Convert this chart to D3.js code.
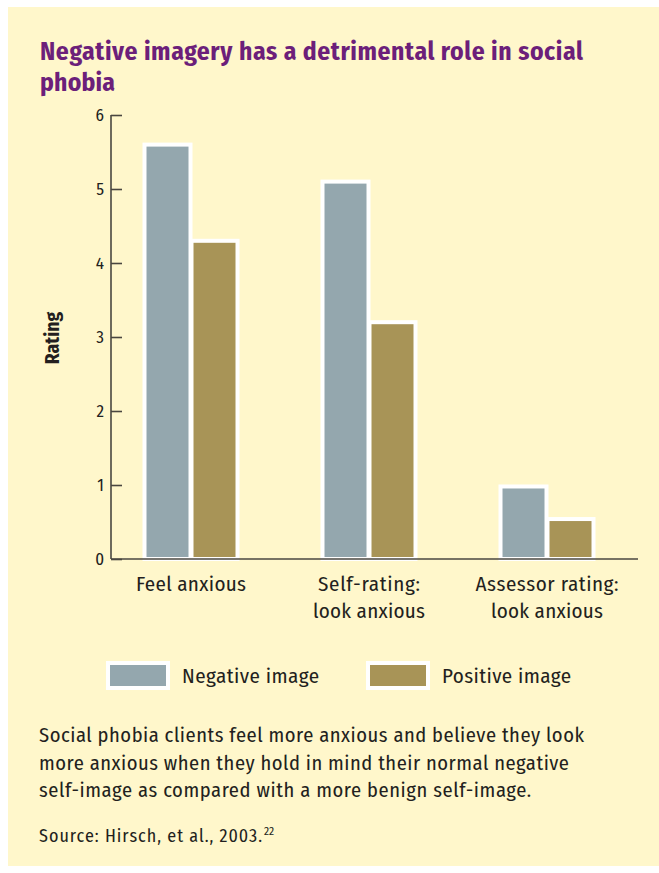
<!DOCTYPE html>
<html>
<head>
<meta charset="utf-8">
<script src="https://cdn.jsdelivr.net/npm/d3@7"></script>
<style>
  body { margin: 0; background: #fff; }
  svg text { font-family: "Fira Sans Condensed", "Liberation Sans Narrow", "DejaVu Sans Condensed", "Roboto Condensed", sans-serif; fill: #231f20; }
</style>
</head>
<body>
<div id="chart"></div>
<script>
// data
var categories = [["Feel anxious"], ["Self-rating:", "look anxious"], ["Assessor rating:", "look anxious"]];
var seriesNames = ["Negative image", "Positive image"];
var negativeValues = [5.6, 5.1, 0.98];
var positiveValues = [4.3, 3.2, 0.54];
var yTicks = [0, 1, 2, 3, 4, 5, 6];

var colors = ["#94a7ae", "#a89457"];

var W = 659, H = 873;

// stretch a text to a measured width by spacing only
function fit(sel, w) {
    sel.attr('textLength', w).attr('lengthAdjust', 'spacing');
}

var svg = d3.select('#chart')
    .append('svg')
    .attr('width', W)
    .attr('height', H);

// cream panel
svg.append('rect')
    .attr('x', 8).attr('y', 7)
    .attr('width', W - 8).attr('height', 859)
    .attr('fill', '#fff7cb');

// title
var title = svg.append('text')
    .attr('y', 60)
    .style('font-size', '25.5px')
    .style('font-weight', 'bold')
    .style('fill', '#6c1f7a');
title.append('tspan').attr('x', 40).text('Negative imagery has a detrimental role in social').call(fit, 543);
title.append('tspan').attr('x', 40).attr('dy', 31).text('phobia').call(fit, 75);

var y = d3.scaleLinear()
    .domain([0, 6])
    .range([559, 115]);

var x = d3.scaleBand()
    .domain(d3.range(categories.length))
    .range([102, 636]);

var inner = d3.scaleBand()
    .domain([0, 1])
    .range([-47, 47]);

// bars
var rows = categories.map(function (c, i) {
    return [negativeValues[i], positiveValues[i]];
});

var groups = svg.selectAll('g.group')
    .data(rows)
    .enter()
    .append('g')
    .attr('class', 'group')
    .attr('transform', function (d, i) {
        return 'translate(' + (x(i) + x.bandwidth() / 2) + ',0)';
    });

groups.selectAll('rect')
    .data(function (d) { return d; })
    .enter()
    .append('rect')
    .attr('x', function (d, j) { return inner(j) + 0.5; })
    .attr('width', inner.bandwidth() - 1)
    .attr('y', function (d) { return y(d); })
    .attr('height', function (d) { return y(0) - y(d); })
    .attr('fill', function (d, j) { return colors[j]; })
    .attr('stroke', '#fff')
    .attr('stroke-width', 4);

// y axis
var yAxis = svg.append('g')
    .attr('transform', 'translate(111,0)')
    .call(d3.axisRight(y).tickValues(yTicks).tickSize(11).tickFormat(''));
yAxis.select('.domain').remove();
yAxis.selectAll('.tick line').attr('stroke', '#4a4740').attr('stroke-width', 1.6);

svg.selectAll('text.ytick')
    .data(yTicks)
    .enter()
    .append('text')
    .attr('class', 'ytick')
    .attr('x', 104)
    .attr('y', function (d) { return y(d); })
    .attr('dy', '0.33em')
    .attr('text-anchor', 'end')
    .attr('font-size', 17)
    .style('font-size', '17px')
    .style('fill', '#222')
    .text(d3.format('d'));

svg.append('line')
    .attr('x1', 111).attr('x2', 111)
    .attr('y1', y(6)).attr('y2', y(0))
    .attr('stroke', '#4a4740').attr('stroke-width', 1.6);
svg.append('line')
    .attr('x1', 111).attr('x2', 638)
    .attr('y1', y(0)).attr('y2', y(0))
    .attr('stroke', '#4a4740').attr('stroke-width', 1.6);

svg.append('text')
    .attr('transform', 'translate(59,' + ((y(0) + y(6)) / 2 + 1) + ') rotate(-90)')
    .attr('text-anchor', 'middle')
    .style('font-size', '19.5px')
    .style('font-weight', 'bold')
    .text('Rating');

// category labels
var labelWidths = [[110], [102, 112], [143, 112]];
var labels = svg.selectAll('text.cat')
    .data(categories)
    .enter()
    .append('text')
    .attr('class', 'cat')
    .attr('text-anchor', 'middle')
    .attr('y', 591)
    .style('font-size', '21px');
labels.each(function (lines, i) {
    d3.select(this).selectAll('tspan')
        .data(lines)
        .enter()
        .append('tspan')
        .attr('x', x(i) + x.bandwidth() / 2)
        .attr('dy', function (d, k) { return k === 0 ? 0 : 27; })
        .attr('textLength', function (d, k) { return labelWidths[i][k]; })
        .attr('lengthAdjust', 'spacing')
        .text(function (d) { return d; });
});

// legend
var legendX = [108, 368];
var legendW = [137, 129];
var legend = svg.selectAll('g.legend')
    .data(seriesNames)
    .enter()
    .append('g')
    .attr('class', 'legend')
    .attr('transform', function (d, i) { return 'translate(' + legendX[i] + ',663)'; });
legend.append('rect')
    .attr('width', 60).attr('height', 25)
    .attr('fill', function (d, i) { return colors[i]; })
    .attr('stroke', '#fff').attr('stroke-width', 4);
legend.append('text')
    .attr('x', 74).attr('y', 19.5)
    .style('font-size', '21px')
    .attr('textLength', function (d, i) { return legendW[i]; })
    .attr('lengthAdjust', 'spacing')
    .text(function (d) { return d; });

// caption
var captionLines = [
    'Social phobia clients feel more anxious and believe they look',
    'more anxious when they hold in mind their normal negative',
    'self-image as compared with a more benign self-image.'
];
var captionW = [545, 530, 492];
svg.selectAll('text.caption')
    .data(captionLines)
    .enter()
    .append('text')
    .attr('class', 'caption')
    .attr('x', 39)
    .attr('y', function (d, i) { return 742 + i * 27.5; })
    .style('font-size', '20.5px')
    .attr('textLength', function (d, i) { return captionW[i]; })
    .attr('lengthAdjust', 'spacing')
    .text(function (d) { return d; });

var source = svg.append('text')
    .attr('x', 39).attr('y', 842)
    .style('font-size', '18px');
source.append('tspan').text('Source: Hirsch, et al., 2003.').call(fit, 223);
source.append('tspan').attr('dx', 1).attr('dy', -7).style('font-size', '11.5px').text('22');
</script>
</body>
</html>
